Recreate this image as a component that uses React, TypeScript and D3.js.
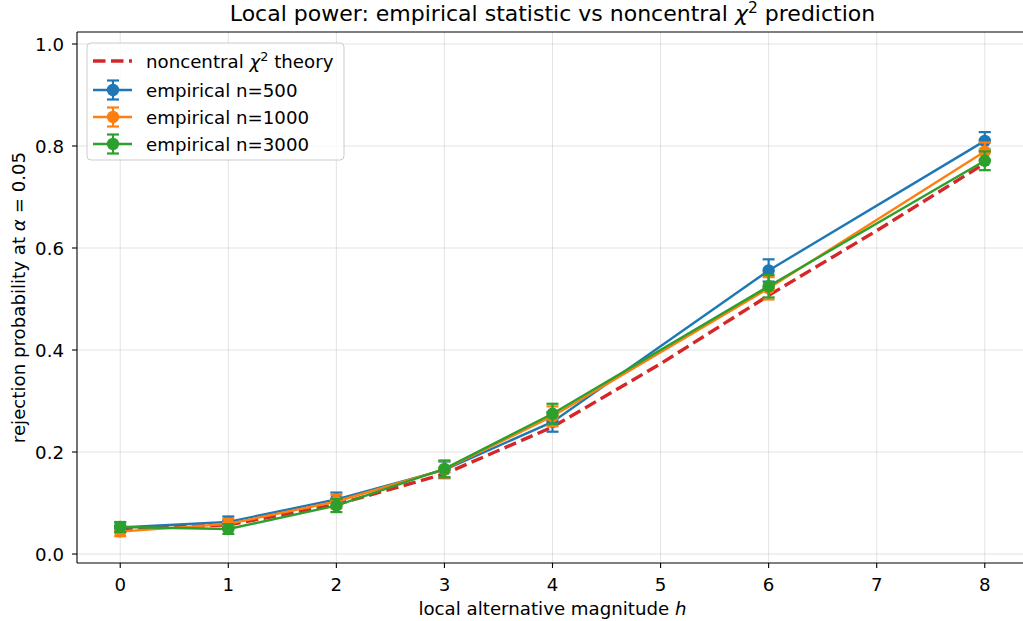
import React from "react";
import * as d3 from "d3";

const hTheory = [0, 1, 2, 3, 4, 5, 6, 7, 8];
const theoryPower = [0.05, 0.057, 0.097, 0.157, 0.249, 0.373, 0.507, 0.634, 0.766];

const hEmp = [0, 1, 2, 3, 4, 6, 8];
const power500 = [0.052, 0.063, 0.107, 0.165, 0.259, 0.556, 0.81];
const err500 = [0.0097, 0.0106, 0.0135, 0.0163, 0.0192, 0.0218, 0.0172];
const power1000 = [0.044, 0.059, 0.103, 0.166, 0.27, 0.521, 0.789];
const err1000 = [0.009, 0.0103, 0.0133, 0.0163, 0.0195, 0.0219, 0.0179];
const power3000 = [0.053, 0.049, 0.095, 0.167, 0.275, 0.525, 0.771];
const err3000 = [0.0098, 0.0095, 0.0128, 0.0164, 0.0196, 0.0219, 0.0184];

const yTicks = [0.0, 0.2, 0.4, 0.6, 0.8, 1.0];
const xTicks = [0, 1, 2, 3, 4, 5, 6, 7, 8];

const series = [
  { label: "empirical n=500", color: "#1f77b4", values: power500, errs: err500 },
  { label: "empirical n=1000", color: "#ff7f0e", values: power1000, errs: err1000 },
  { label: "empirical n=3000", color: "#2ca02c", values: power3000, errs: err3000 },
];

const W = 1023;
const H = 621;
const FONT = "'DejaVu Sans', sans-serif";
const FS = 18.2;

export default function App() {
  const left = 77;
  const right = 1028;
  const top = 32;
  const bottom = 563;
  const x = d3.scaleLinear().domain([-0.4, 8.4]).range([left, right]);
  const y = d3.scaleLinear().domain([-0.0176, 1.0235]).range([bottom, top]);

  const line = d3
    .line<[number, number]>()
    .x((d) => x(d[0]))
    .y((d) => y(d[1]));

  const theoryPath = line(hTheory.map((h, i) => [h, theoryPower[i]]) as [number, number][]) || "";

  const cap = 6;
  const legendRows = [61, 90, 117, 144];

  return (
    <div style={{ position: "fixed", left: 0, top: 0, width: W, height: H, background: "#fff" }}>
      <svg width={W} height={H} style={{ display: "block", fontFamily: FONT }}>
        <rect x={0} y={0} width={W} height={H} fill="#fff" />
        <defs>
          <clipPath id="plotclip">
            <rect x={left} y={top} width={right - left} height={bottom - top} />
          </clipPath>
        </defs>
        {/* grid */}
        <g stroke="#b0b0b0" strokeOpacity={0.35} strokeWidth={1}>
          {xTicks.map((t) => (
            <line key={"gx" + t} x1={x(t)} x2={x(t)} y1={top} y2={bottom} />
          ))}
          {yTicks.map((t) => (
            <line key={"gy" + t} x1={left} x2={right} y1={y(t)} y2={y(t)} />
          ))}
        </g>
        <g clipPath="url(#plotclip)">
          <path
            d={theoryPath}
            fill="none"
            stroke="#d62728"
            strokeWidth={3.4}
            strokeDasharray="12.5,5.5"
          />
          {series.map((s) => {
            const pts = hEmp.map((h, i) => [h, s.values[i]]) as [number, number][];
            return (
              <g key={s.label}>
                {hEmp.map((h, i) => {
                  const cx = x(h);
                  const y1 = y(s.values[i] - s.errs[i]);
                  const y2 = y(s.values[i] + s.errs[i]);
                  return (
                    <g key={h} stroke={s.color} strokeWidth={2.2}>
                      <line x1={cx} x2={cx} y1={y1} y2={y2} />
                      <line x1={cx - cap} x2={cx + cap} y1={y1} y2={y1} />
                      <line x1={cx - cap} x2={cx + cap} y1={y2} y2={y2} />
                    </g>
                  );
                })}
                <path d={line(pts) || ""} fill="none" stroke={s.color} strokeWidth={2.4} />
                {pts.map((p) => (
                  <circle key={p[0]} cx={x(p[0])} cy={y(p[1])} r={6.2} fill={s.color} />
                ))}
              </g>
            );
          })}
        </g>
        {/* spines */}
        <g stroke="#000" strokeWidth={1.1} fill="none">
          <line x1={left} x2={left} y1={top} y2={bottom} />
          <line x1={left} x2={right} y1={bottom} y2={bottom} />
          <line x1={left} x2={right} y1={top} y2={top} />
          <line x1={right} x2={right} y1={top} y2={bottom} />
        </g>
        {/* x ticks */}
        <g fontSize={FS} fill="#000" textAnchor="middle">
          {xTicks.map((t) => (
            <g key={"xt" + t}>
              <line x1={x(t)} x2={x(t)} y1={bottom} y2={bottom + 5} stroke="#000" strokeWidth={1.1} />
              <text x={x(t)} y={591}>{String(t)}</text>
            </g>
          ))}
        </g>
        {/* y ticks */}
        <g fontSize={FS} fill="#000" textAnchor="end">
          {yTicks.map((t) => (
            <g key={"yt" + t}>
              <line x1={left - 5} x2={left} y1={y(t)} y2={y(t)} stroke="#000" strokeWidth={1.1} />
              <text x={left - 13} y={y(t) + 6.6}>{d3.format(".1f")(t)}</text>
            </g>
          ))}
        </g>
        {/* axis labels */}
        <text x={(left + right) / 2} y={615} fontSize={FS} textAnchor="middle" fill="#000">
          local alternative magnitude <tspan fontStyle="italic">h</tspan>
        </text>
        <text
          transform={`translate(25, ${(top + bottom) / 2}) rotate(-90)`}
          fontSize={FS}
          textAnchor="middle"
          fill="#000"
        >
          rejection probability at <tspan fontStyle="italic">α</tspan> = 0.05
        </text>
        {/* title */}
        <text x={(left + right) / 2} y={21} fontSize={22} textAnchor="middle" fill="#000">
          Local power: empirical statistic vs noncentral <tspan fontStyle="italic">χ</tspan>
          <tspan fontSize={15.5} dy={-8}>2</tspan>
          <tspan dy={8}> prediction</tspan>
        </text>
        {/* legend */}
        <g>
          <rect x={87} y={43} width={257} height={117} rx={4} fill="#fff" fillOpacity={0.8} stroke="#cccccc" strokeWidth={1} />
          <line x1={93} x2={132} y1={legendRows[0]} y2={legendRows[0]} stroke="#d62728" strokeWidth={3.4} strokeDasharray="12.5,5.5" />
          <text x={146} y={legendRows[0] + 6.5} fontSize={FS} fill="#000">
            noncentral <tspan fontStyle="italic">χ</tspan>
            <tspan fontSize={12.8} dy={-7}>2</tspan>
            <tspan dy={7}> theory</tspan>
          </text>
          {series.map((s, i) => {
            const ry = legendRows[i + 1];
            return (
              <g key={"lg" + s.label}>
                <line x1={93} x2={132} y1={ry} y2={ry} stroke={s.color} strokeWidth={2.4} />
                <g stroke={s.color} strokeWidth={2.2}>
                  <line x1={113} x2={113} y1={ry - 9.5} y2={ry + 9.5} />
                  <line x1={113 - cap} x2={113 + cap} y1={ry - 9.5} y2={ry - 9.5} />
                  <line x1={113 - cap} x2={113 + cap} y1={ry + 9.5} y2={ry + 9.5} />
                </g>
                <circle cx={113} cy={ry} r={6.2} fill={s.color} />
                <text x={146} y={ry + 6.5} fontSize={FS} fill="#000">{s.label}</text>
              </g>
            );
          })}
        </g>
      </svg>
    </div>
  );
}
